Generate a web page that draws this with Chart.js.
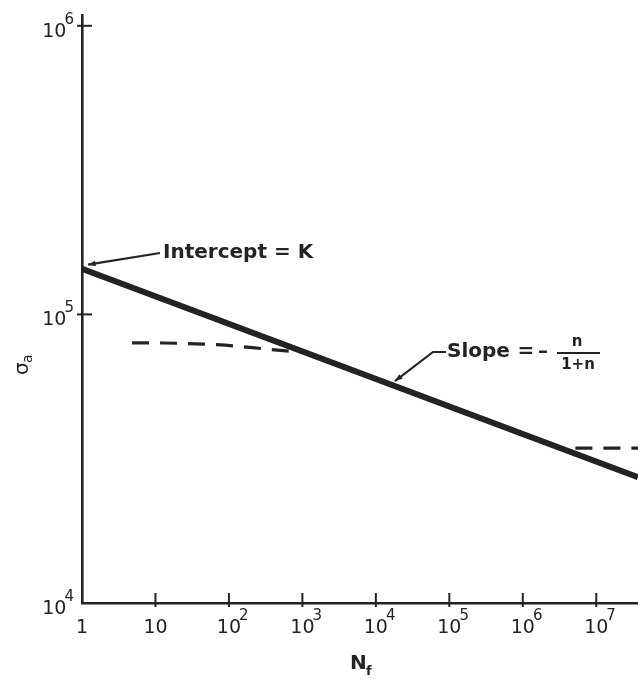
<!DOCTYPE html>
<html>
<head>
<meta charset="utf-8">
<script src="https://cdn.jsdelivr.net/npm/chart.js@4.4.1/dist/chart.umd.min.js"></script>
<style>
  html, body { margin: 0; padding: 0; background: #fff; }
  #wrap { width: 638px; height: 683px; position: relative; }
</style>
</head>
<body>
<div id="wrap"><canvas id="snChart"></canvas></div>
<script>
// decade exponents shown on each axis
const xTickExps = [0, 1, 2, 3, 4, 5, 6, 7];
const yTickExps = [4, 5, 6];

// straight line: stress amplitude vs cycles to failure
const lineN = [1, 3.7e7];
const lineStress = [144000, 27300];

// low-cycle deviation (dashed)
const lowN = [4.8, 12.6, 35, 89, 209, 500, 1020];
const lowStress = [79700, 79600, 79100, 78200, 76700, 75000, 74000];

// endurance plateau (dashed)
const highN = [5.2e6, 3.7e7];
const highStress = [34400, 34400];

const ink = "#232323";
const toPoints = (xs, ys) => xs.map((x, i) => ({ x, y: ys[i] }));

function powerLabel(ctx, exp, x, y, side) {
  ctx.fillStyle = ink;
  ctx.textBaseline = "middle";
  ctx.font = "19px 'DejaVu Sans'";
  if (exp === 0 || exp === 1) {
    ctx.textAlign = "center";
    ctx.fillText(exp === 0 ? "1" : "10", x, y);
    return;
  }
  const w = ctx.measureText("10").width;
  ctx.font = "15px 'DejaVu Sans'";
  const sw = ctx.measureText(String(exp)).width;
  const left = side === "x" ? x - w / 2 : x - w - sw + 2;
  ctx.font = "19px 'DejaVu Sans'";
  ctx.textAlign = "left";
  ctx.fillText("10", left, y);
  ctx.font = "15px 'DejaVu Sans'";
  ctx.fillText(String(exp), left + w - 2, y - 12);
}

function arrowHead(ctx, fx, fy, tx, ty) {
  const a = Math.atan2(ty - fy, tx - fx);
  const len = 8, spread = 0.35;
  ctx.beginPath();
  ctx.moveTo(tx, ty);
  ctx.lineTo(tx - len * Math.cos(a - spread), ty - len * Math.sin(a - spread));
  ctx.lineTo(tx - len * Math.cos(a + spread), ty - len * Math.sin(a + spread));
  ctx.closePath();
  ctx.fill();
}

const decorations = {
  id: "decorations",
  afterDraw(chart) {
    const { ctx, chartArea, scales } = chart;
    const xs = scales.x, ys = scales.y;
    ctx.save();
    ctx.strokeStyle = ink;
    ctx.fillStyle = ink;

    // tick crosses
    ctx.lineWidth = 2;
    xTickExps.forEach(e => {
      if (e === 0) return;
      const px = xs.getPixelForValue(10 ** e);
      ctx.beginPath();
      ctx.moveTo(px, chartArea.bottom - 10);
      ctx.lineTo(px, chartArea.bottom + 4);
      ctx.stroke();
    });
    yTickExps.forEach(e => {
      if (e === yTickExps[0]) return;
      const py = ys.getPixelForValue(10 ** e);
      ctx.beginPath();
      ctx.moveTo(chartArea.left - 5, py);
      ctx.lineTo(chartArea.left + 10, py);
      ctx.stroke();
    });

    // tick labels
    xTickExps.forEach(e => {
      powerLabel(ctx, e, xs.getPixelForValue(10 ** e), chartArea.bottom + 25, "x");
    });
    yTickExps.forEach(e => {
      powerLabel(ctx, e, chartArea.left - 8, ys.getPixelForValue(10 ** e) + 6, "y");
    });

    // axis titles
    ctx.textBaseline = "middle";
    ctx.textAlign = "left";
    ctx.font = "bold 20px 'DejaVu Sans'";
    ctx.fillText("N", 350, 664);
    ctx.font = "bold 13px 'DejaVu Sans'";
    ctx.fillText("f", 366, 672);

    ctx.save();
    ctx.translate(23, 365);
    ctx.rotate(-Math.PI / 2);
    ctx.textAlign = "left";
    ctx.font = "20px 'DejaVu Sans'";
    ctx.fillText("σ", -10, 0);
    ctx.font = "14px 'DejaVu Sans'";
    ctx.fillText("a", 2, 5);
    ctx.restore();

    // intercept callout
    const ix = xs.getPixelForValue(lineN[0]) + 6;
    const iy = ys.getPixelForValue(lineStress[0]) - 4;
    ctx.lineWidth = 2.2;
    ctx.beginPath();
    ctx.moveTo(160, 253);
    ctx.lineTo(ix, iy);
    ctx.stroke();
    arrowHead(ctx, 160, 253, ix, iy);
    ctx.font = "bold 20px 'DejaVu Sans'";
    ctx.textAlign = "left";
    ctx.fillText("Intercept = K", 163, 253);

    // slope callout
    const sN = 10 ** 4.26;
    const slope = Math.log10(lineStress[1] / lineStress[0]) / Math.log10(lineN[1] / lineN[0]);
    const sS = lineStress[0] * (sN / lineN[0]) ** slope;
    const sx = xs.getPixelForValue(sN);
    const sy = ys.getPixelForValue(sS) - 5;
    ctx.beginPath();
    ctx.moveTo(446, 352);
    ctx.lineTo(433, 352);
    ctx.lineTo(sx, sy);
    ctx.stroke();
    arrowHead(ctx, 433, 352, sx, sy);
    ctx.fillText("Slope", 447, 352);
    ctx.textAlign = "center";
    ctx.fillText("=", 526, 352);
    ctx.fillText("–", 543, 352);
    ctx.font = "bold 15px 'DejaVu Sans'";
    ctx.fillText("n", 577, 342);
    ctx.fillText("1+n", 578, 365);
    ctx.lineWidth = 2.2;
    ctx.beginPath();
    ctx.moveTo(557, 353);
    ctx.lineTo(600, 353);
    ctx.stroke();

    ctx.restore();
  }
};

new Chart(document.getElementById("snChart"), {
  type: "scatter",
  data: {
    datasets: [
      {
        data: toPoints(lineN, lineStress),
        showLine: true,
        borderColor: ink,
        borderWidth: 6,
        pointRadius: 0
      },
      {
        data: toPoints(lowN, lowStress),
        showLine: true,
        borderColor: ink,
        borderWidth: 3.2,
        borderDash: [17, 11],
        cubicInterpolationMode: "monotone",
        pointRadius: 0
      },
      {
        data: toPoints(highN, highStress),
        showLine: true,
        borderColor: ink,
        borderWidth: 3.2,
        borderDash: [17, 11],
        pointRadius: 0
      }
    ]
  },
  options: {
    responsive: true,
    maintainAspectRatio: false,
    animation: false,
    layout: { padding: { top: 15, right: 0, left: 0, bottom: 0 } },
    plugins: { legend: { display: false }, tooltip: { enabled: false } },
    scales: {
      x: {
        type: "logarithmic",
        min: 1,
        max: 3.7e7,
        ticks: { display: false },
        grid: { display: false },
        border: { display: true, color: ink, width: 2.6 },
        afterFit(s) { s.height = 80; }
      },
      y: {
        type: "logarithmic",
        min: 1e4,
        max: 1.09e6,
        ticks: { display: false },
        grid: { display: false },
        border: { display: true, color: ink, width: 2.6 },
        afterFit(s) { s.width = 82; }
      }
    }
  },
  plugins: [decorations]
});
</script>
</body>
</html>
